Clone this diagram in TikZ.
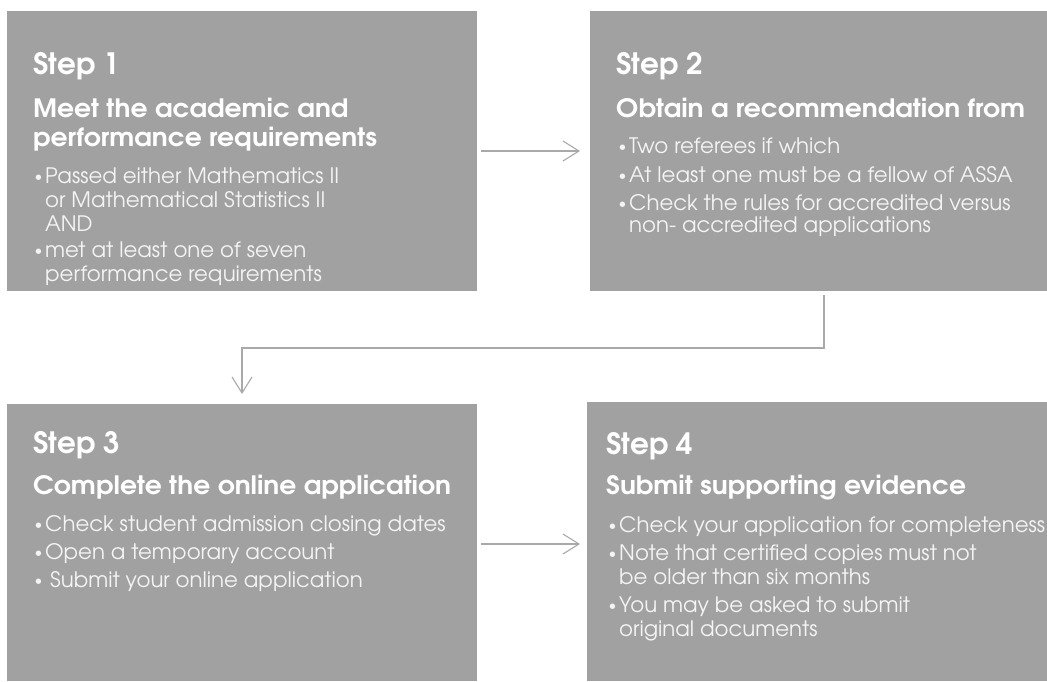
\documentclass[tikz,border=0pt]{standalone}
\usepackage{fontspec}
\setmainfont{texgyreadventor}[Extension=.otf, UprightFont=*-regular, BoldFont=*-bold]
\newfontfamily\headfont{texgyreadventor}[Extension=.otf, UprightFont=*-bold, FakeStretch=1.05]
\usetikzlibrary{arrows.meta}
\definecolor{boxgray}{HTML}{A1A1A1}
\definecolor{linegray}{HTML}{A9A9A9}
\definecolor{bodytext}{HTML}{F4F4F4}
\newcommand\bulletmark{\makebox[11pt][l]{\hspace{0.5pt}\raisebox{1.5pt}{\fontsize{15}{15}\selectfont\textbullet}}}
\tikzset{
  stepbox/.style={fill=boxgray, draw=none, inner sep=0pt, outer sep=0pt, anchor=north west},
  steptitle/.style={anchor=base west, inner sep=0pt, text=white, font=\fontsize{29.4}{29.4}\selectfont\bfseries},
  headline/.style={anchor=base west, inner sep=0pt, text=white, font=\fontsize{25.3}{25.3}\selectfont\headfont},
  bodyline/.style={anchor=base west, inner sep=0pt, text=bodytext, font=\fontsize{21.3}{21.3}\selectfont},
  conn/.style={draw=linegray, line width=1.1pt, -{Straight Barb[length=16pt,width=20pt,line width=1.1pt]}}
}
\begin{document}
\begin{tikzpicture}[x=1pt,y=-1pt]
\useasboundingbox (0,0) rectangle (1047,681);
% boxes
\node[stepbox, minimum width=470pt, minimum height=280pt] (s1) at (7,11) {};
\node[stepbox, minimum width=457pt, minimum height=280pt] (s2) at (590,11) {};
\node[stepbox, minimum width=470pt, minimum height=277pt] (s3) at (7,404) {};
\node[stepbox, minimum width=460pt, minimum height=279pt] (s4) at (587,402) {};
% step 1
\node[steptitle] (t1) at (33,74) {Step 1};
\node[headline] (h1a) at (33,117) {Meet the academic and};
\node[headline] (h1b) at (33,146) {performance requirements};
\node[bodyline] (b1a) at (34,183) {\bulletmark Passed either Mathematics II};
\node[bodyline] (b1b) at (45,207) {or Mathematical Statistics II};
\node[bodyline] (b1c) at (45,231) {AND};
\node[bodyline] (b1d) at (34,257) {\bulletmark met at least one of seven};
\node[bodyline] (b1e) at (45,281) {performance requirements};
% step 2
\node[steptitle] (t2) at (616,74) {Step 2};
\node[headline] (h2a) at (616,117) {Obtain a recommendation from};
\node[bodyline] (b2a) at (618,153) {\bulletmark Two referees if which};
\node[bodyline] (b2b) at (618,182) {\bulletmark At least one must be a fellow of ASSA};
\node[bodyline] (b2c) at (618,210) {\bulletmark Check the rules for accredited versus};
\node[bodyline] (b2d) at (629,232) {non- accredited applications};
% step 3
\node[steptitle] (t3) at (33,453) {Step 3};
\node[headline] (h3a) at (33,494) {Complete the online application};
\node[bodyline] (b3a) at (34,531) {\bulletmark Check student admission closing dates};
\node[bodyline] (b3b) at (34,559) {\bulletmark Open a temporary account};
\node[bodyline] (b3c) at (34,587) {\bulletmark\hspace{5pt}Submit your online application};
% step 4
\node[steptitle] (t4) at (606,454) {Step 4};
\node[headline] (h4a) at (606,494) {Submit supporting evidence};
\node[bodyline] (b4a) at (608,532) {\bulletmark Check your application for completeness};
\node[bodyline] (b4b) at (608,560) {\bulletmark Note that certified copies must not};
\node[bodyline] (b4c) at (619,584) {be older than six months};
\node[bodyline] (b4d) at (608,612) {\bulletmark You may be asked to submit};
\node[bodyline] (b4e) at (619,636) {original documents};
% connectors
\draw[conn] ([xshift=4pt]s1.east) -- ([xshift=-10pt]s2.west);
\draw[conn] ([xshift=5.5pt,yshift=-4pt]s2.south) -- ++(0,53) -| ([yshift=10pt]s3.north);
\draw[conn] ([xshift=4pt,yshift=-1.5pt]s3.east) -- ([xshift=-7pt,yshift=-2.5pt]s4.west);
\end{tikzpicture}
\end{document}
